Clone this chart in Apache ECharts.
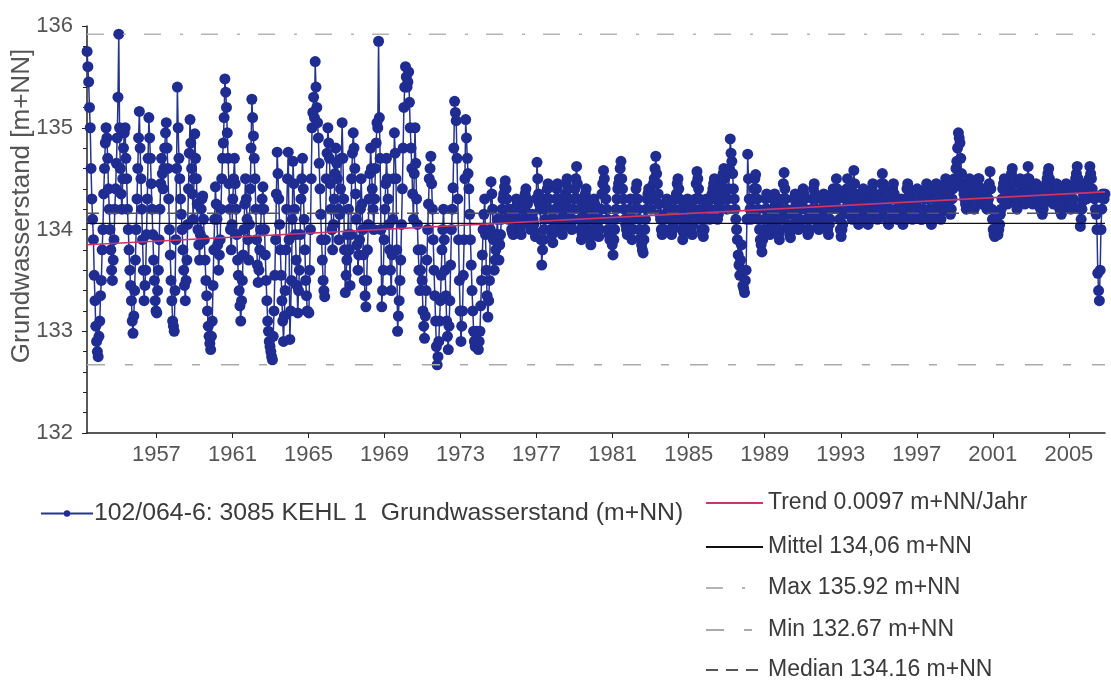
<!DOCTYPE html>
<html>
<head>
<meta charset="utf-8">
<script src="https://cdn.jsdelivr.net/npm/echarts@6/dist/echarts.min.js"></script>
<style>
html,body{margin:0;padding:0;background:#fff;}
#chart{width:1111px;height:682px;}
</style>
</head>
<body>
<div id="chart"></div>
<script>
// Semi-monthly groundwater levels (m+NN)
const start1950s = [1953, 9]; // first value: 1st half of May 1953 (half-month index 9, 1-based)
const gw1950s = [
  135.75,135.6,135.45,135.2,135.0,134.6,134.3,134.1,133.9,133.55,133.3,133.05,132.9,132.8,132.75,132.95,
  133.1,133.35,133.5,133.8,134.0,134.35,134.6,134.85,135.0,134.9,134.7,134.4,134.2,134.0,133.8,133.6,133.5,133.7,133.9,134.2,134.4,134.65,134.9,135.3,
  135.92,135.0,134.6,134.35,134.2,134.5,134.8,134.95,135.0,134.7,134.5,134.2,134.0,133.8,133.6,133.45,133.3,133.1,132.98,133.15,133.4,133.7,134.0,134.3,
  134.6,134.9,135.16,134.8,134.5,134.2,133.9,133.6,133.3,133.45,133.6,133.95,134.3,134.7,135.1,134.9,134.7,134.45,134.2,133.95,133.7,133.5,133.3,133.2,
  133.18,133.4,133.6,133.9,134.2,134.45,134.7,134.55,134.4,134.6,134.8,134.95,135.05,134.8,134.6,134.3,134.0,133.75,133.5,133.3,133.1,133.05,133.0,133.4,
  133.9,134.6,135.4,135.0,134.7,134.5,134.3,134.15,134.0,133.8,133.6,133.45,133.3,133.5,133.7,134.05,134.4,134.75,135.08,134.85,134.6,134.35,134.1,134.5,
  134.94,134.7,134.5,134.25,134.0,133.85,133.7,133.95,134.2,134.3,134.33,134.1,133.9,133.7,133.5,133.35,133.2,133.05,132.95,132.88,132.82,132.95,133.1,133.45
];
const gw1960s = [
  133.8,134.1,134.42,134.25,134.1,133.85,133.6,133.75,133.9,134.2,134.5,134.7,134.85,135.1,135.48,135.35,135.2,134.95,134.7,134.45,134.2,134.0,133.8,134.05,
  134.3,134.5,134.7,134.45,134.2,133.95,133.7,133.55,133.4,133.25,133.1,133.3,133.5,133.75,134.0,134.25,134.5,134.3,134.1,133.9,133.7,134.05,134.4,134.8,
  135.28,135.1,134.92,134.7,134.5,134.2,133.9,133.65,133.48,133.6,133.8,134.0,134.2,134.3,134.42,134.2,134.0,133.75,133.5,133.3,133.1,133.0,132.9,132.85,
  132.8,132.75,132.72,132.95,133.2,133.55,133.9,134.35,134.76,134.55,134.3,134.05,133.8,133.55,133.3,133.1,132.9,133.15,133.4,133.8,134.2,134.5,134.76,133.9,
  132.92,133.2,133.5,134.1,134.67,134.45,134.2,133.95,133.7,133.45,133.18,133.4,133.6,133.95,134.3,134.5,134.7,134.4,134.1,133.8,133.5,133.35,133.2,133.19,
  133.18,133.6,134.0,134.5,135.0,135.15,135.3,135.1,135.65,135.4,135.2,135.05,134.9,134.65,134.4,134.15,133.9,133.7,133.5,133.4,133.34,133.9,134.5,134.75,
  135.0,134.85,134.7,134.45,134.2,134.0,133.8,134.05,134.3,134.55,134.8,134.65,134.5,134.2,133.9,134.15,134.4,134.7,135.05,134.7,134.3,133.8,133.38,133.55,
  133.7,133.95,134.2,133.8,133.45,133.95,134.5,134.75,134.95,134.8,134.6,134.35,134.1,133.85,133.6,133.75,133.9,134.2,134.5,134.25,134.0,133.75,133.5,133.35,
  133.24,133.5,133.8,134.05,134.3,134.55,134.8,134.6,134.4,134.2,134.0,134.3,134.6,134.85,135.05,135.0,135.85,135.1,134.7,134.0,133.24,133.4,133.6,133.9,
  134.2,134.45,134.7,134.5,134.3,134.05,133.8,133.6,133.4,133.75,134.1,134.5,134.95,134.75,134.5,133.8,133.0,133.15,133.3,133.5,133.7,134.05,134.4,134.8
];
const gw1970s = [
  135.2,135.4,135.6,135.5,135.4,135.45,135.55,135.25,135.0,134.8,134.6,134.35,134.1,134.55,135.0,134.65,134.3,134.05,133.8,133.6,133.4,133.6,133.8,133.5,
  133.2,133.05,132.93,133.15,133.4,133.7,134.0,134.25,134.5,134.6,134.72,134.45,134.2,133.9,133.6,133.35,133.1,132.85,132.67,132.75,132.9,133.1,133.3,133.55,
  133.8,134.0,134.2,133.9,133.6,133.35,133.1,132.95,132.82,133.05,133.3,133.65,134.0,134.2,134.41,134.8,135.26,135.15,135.07,134.7,134.3,133.9,133.5,133.2,
  132.9,133.05,133.2,133.55,133.9,134.5,135.08,134.9,134.7,134.55,134.4,134.15,133.9,133.65,133.4,133.2,133.0,132.9,132.85,132.92,133.0,132.9,132.82,132.9,
  133.0,133.25,133.5,133.75,134.0,134.15,134.3,133.95,133.6,133.35,133.14,133.3,133.5,134.0,134.47,134.35,134.2,133.9,133.6,133.7,133.8,133.95,134.1,133.9,
  133.7,133.85,133.95,134.1,134.2,134.3,134.35,134.42,134.48,134.4,134.3,134.2,134.1,134.15,134.2,134.1,134.0,133.97,133.95,134.05,134.1,134.2,134.3,134.25,
  134.2,134.1,134.0,133.97,133.95,134.05,134.1,134.2,134.3,134.35,134.4,134.3,134.25,134.15,134.1,134.05,134.0,134.1,134.15,134.1,134.05,133.98,133.93,134.3,
  134.66,134.5,134.35,134.25,134.2,133.9,133.65,133.8,133.9,134.0,134.1,134.2,134.3,134.4,134.45,134.3,134.2,134.1,134.0,133.95,133.87,134.0,134.1,134.2,
  134.3,134.4,134.45,134.3,134.2,134.1,134.05,134.0,133.95,134.05,134.15,134.25,134.35,134.45,134.5,134.4,134.3,134.2,134.1,134.05,134.0,134.1,134.2,134.3,
  134.4,134.5,134.62,134.45,134.3,134.2,134.1,134.0,133.9,133.95,134.05,134.15,134.25,134.35,134.4,134.3,134.2,134.1,134.0,133.92,133.85,133.97,134.1,134.2
];
const gw1980s = [
  134.3,134.25,134.2,134.1,134.05,134.0,133.93,134.0,134.1,134.2,134.35,134.45,134.58,134.5,134.4,134.3,134.2,134.1,134.0,133.95,133.9,133.95,134.0,133.85,
  133.75,133.9,134.0,134.1,134.2,134.3,134.4,134.45,134.5,134.6,134.67,134.5,134.4,134.3,134.2,134.1,134.05,134.0,133.95,134.0,134.1,134.2,134.3,134.1,
  133.9,134.0,134.1,134.2,134.3,134.4,134.45,134.3,134.2,134.1,134.0,133.92,133.85,133.8,133.77,133.9,134.0,134.1,134.2,134.3,134.35,134.4,134.4,134.3,
  134.2,134.3,134.35,134.45,134.5,134.6,134.72,134.55,134.45,134.35,134.25,134.15,134.1,134.0,133.95,133.97,134.0,134.1,134.15,134.25,134.3,134.25,134.2,134.15,
  134.1,134.0,133.95,134.0,134.05,134.15,134.2,134.3,134.35,134.45,134.5,134.4,134.3,134.2,134.1,134.0,133.9,133.97,134.05,134.1,134.2,134.25,134.3,134.25,
  134.2,134.1,134.0,133.97,133.95,134.05,134.15,134.2,134.3,134.45,134.57,134.5,134.4,134.3,134.2,134.1,134.0,133.95,133.93,134.0,134.1,134.2,134.3,134.25,
  134.2,134.15,134.1,134.2,134.3,134.35,134.4,134.45,134.5,134.4,134.3,134.2,134.1,134.15,134.25,134.35,134.45,134.5,134.5,134.55,134.6,134.5,134.4,134.3,
  134.2,134.3,134.4,134.6,134.89,134.75,134.67,134.55,134.4,134.3,134.2,134.1,134.0,133.9,133.75,133.65,133.55,133.7,133.85,133.6,133.45,133.42,133.38,133.5,
  133.6,134.1,134.74,134.5,134.3,134.2,134.1,134.15,134.2,134.3,134.4,134.5,134.54,134.4,134.3,134.2,134.1,134.0,133.9,133.85,133.78,133.9,134.0,134.1,
  134.2,134.3,134.35,134.2,134.1,134.0,133.95,134.0,134.05,134.15,134.2,134.3,134.35,134.25,134.2,134.1,134.0,133.95,133.9,134.0,134.1,134.2,134.3,134.45
];
const gw1990s = [
  134.56,134.4,134.3,134.2,134.15,134.05,134.0,133.95,133.92,134.0,134.05,134.15,134.2,134.3,134.35,134.25,134.2,134.1,134.0,134.05,134.1,134.2,134.25,134.35,
  134.4,134.35,134.3,134.2,134.1,134.0,133.95,133.97,134.0,134.1,134.15,134.2,134.3,134.4,134.45,134.35,134.3,134.2,134.1,134.05,134.0,134.05,134.1,134.15,
  134.2,134.3,134.35,134.25,134.2,134.1,134.05,134.0,133.95,134.05,134.1,134.2,134.3,134.35,134.4,134.3,134.25,134.35,134.5,134.4,134.3,134.2,134.1,134.0,
  133.93,134.0,134.05,134.15,134.2,134.3,134.35,134.4,134.5,134.4,134.3,134.25,134.2,134.15,134.1,134.3,134.58,134.45,134.35,134.25,134.15,134.1,134.05,134.08,
  134.1,134.2,134.25,134.3,134.4,134.35,134.3,134.2,134.15,134.1,134.05,134.1,134.2,134.3,134.35,134.4,134.45,134.35,134.3,134.25,134.2,134.15,134.1,134.15,
  134.2,134.3,134.35,134.45,134.55,134.45,134.4,134.3,134.25,134.15,134.1,134.07,134.05,134.1,134.2,134.3,134.35,134.4,134.45,134.35,134.3,134.2,134.15,134.1,
  134.1,134.15,134.2,134.25,134.3,134.15,134.05,134.1,134.15,134.2,134.3,134.4,134.45,134.4,134.35,134.25,134.2,134.15,134.1,134.15,134.2,134.25,134.3,134.35,
  134.4,134.35,134.3,134.2,134.15,134.1,134.1,134.15,134.2,134.3,134.35,134.4,134.45,134.35,134.3,134.2,134.15,134.1,134.05,134.1,134.2,134.3,134.35,134.4,
  134.45,134.35,134.3,134.25,134.2,134.15,134.1,134.2,134.25,134.35,134.4,134.45,134.5,134.4,134.35,134.25,134.2,134.18,134.15,134.2,134.3,134.4,134.45,134.5,
  134.5,134.6,134.67,134.8,134.95,134.9,134.85,134.7,134.55,134.45,134.4,134.35,134.3,134.25,134.2,134.3,134.35,134.45,134.5,134.45,134.4,134.35,134.3,134.25
];
const gw2000s = [
  134.2,134.25,134.3,134.4,134.45,134.5,134.5,134.4,134.35,134.3,134.25,134.35,134.4,134.35,134.3,134.25,134.2,134.25,134.3,134.45,134.57,134.4,134.2,134.1,
  134.0,133.95,133.93,134.0,134.1,134.0,133.95,134.0,134.05,134.15,134.2,134.3,134.4,134.45,134.5,134.4,134.35,134.3,134.25,134.3,134.4,134.45,134.5,134.55,
  134.6,134.5,134.45,134.35,134.3,134.25,134.2,134.3,134.35,134.45,134.5,134.45,134.4,134.35,134.3,134.28,134.25,134.3,134.4,134.5,134.62,134.5,134.45,134.4,
  134.35,134.3,134.25,134.28,134.3,134.4,134.45,134.4,134.35,134.3,134.25,134.22,134.2,134.18,134.15,134.2,134.25,134.3,134.4,134.45,134.5,134.55,134.6,134.5,
  134.4,134.35,134.3,134.28,134.25,134.3,134.35,134.4,134.45,134.4,134.3,134.25,134.2,134.18,134.15,134.2,134.25,134.3,134.35,134.4,134.45,134.4,134.35,134.32,
  134.3,134.25,134.2,134.22,134.25,134.3,134.4,134.45,134.5,134.55,134.62,134.5,134.4,134.2,134.03,134.1,134.2,134.28,134.35,134.4,134.45,134.38,134.3,134.35,
  134.4,134.5,134.62,134.55,134.5,134.4,134.35,134.32,134.3,134.2,134.15,134.0,133.57,133.4,133.3,133.6,134.0,134.2,134.35,134.3,134.3,134.35
];

// Statistics / reference lines
const xRange = [1953.35, 2006.9];
const trendValues = [133.85, 134.37];
const meanValue = 134.06;
const maxValue = 135.92;
const minValue = 132.67;
const medianValue = 134.16;
const yearTicks = [1957,1961,1965,1969,1973,1977,1981,1985,1989,1993,1997,2001,2005];

const seriesNames = {
  gw: '102/064-6: 3085 KEHL 1  Grundwasserstand (m+NN)',
  trend: 'Trend 0.0097 m+NN/Jahr',
  mean: 'Mittel 134,06 m+NN',
  max: 'Max 135.92 m+NN',
  min: 'Min 132.67 m+NN',
  median: 'Median 134.16 m+NN'
};

// build [date, value] pairs at half-month midpoints
function halfMonthly(startYear, startHalf, values) {
  return values.map((v, i) => {
    const h = startHalf - 1 + i;
    return [startYear + (h + 0.5) / 24, v];
  });
}
const gwData = [].concat(
  halfMonthly(start1950s[0], start1950s[1], gw1950s),
  halfMonthly(1960, 1, gw1960s),
  halfMonthly(1970, 1, gw1970s),
  halfMonthly(1980, 1, gw1980s),
  halfMonthly(1990, 1, gw1990s),
  halfMonthly(2000, 1, gw2000s)
);
const flat = v => [[xRange[0], v], [xRange[1], v]];

const FONT = 'Liberation Sans, Arial, sans-serif';
const TXT = '#3a3a3a';
const refLegendNames = [seriesNames.trend, seriesNames.mean, seriesNames.max, seriesNames.min, seriesNames.median];
const refLegendTops = [491.5, 535.5, 576.5, 618.5, 658.5];
const refLegends = refLegendNames.map((n, i) => ({
  left: 705, top: refLegendTops[i], padding: 0, itemWidth: 57, itemHeight: 14,
  itemStyle: {opacity: 0},
  data: [n],
  textStyle: {fontSize: 23, color: TXT, fontFamily: FONT, padding: [0, 0, 0, 0]}
}));

const chart = echarts.init(document.getElementById('chart'), null, {renderer: 'canvas'});
chart.setOption({
  animation: false,
  backgroundColor: '#fff',
  grid: {left: 87, right: 6, top: 26, bottom: 249},
  xAxis: {
    type: 'value', min: xRange[0], max: xRange[1],
    splitLine: {show: false},
    axisLine: {lineStyle: {color: '#222', width: 1.5}},
    axisTick: {show: true, customValues: yearTicks, length: 5, lineStyle: {color: '#222'}},
    axisLabel: {customValues: yearTicks, formatter: v => String(v), fontSize: 22, color: '#555', fontFamily: FONT, margin: 11}
  },
  yAxis: {
    type: 'value', min: 132, max: 136, interval: 1,
    splitLine: {show: false},
    axisLine: {show: true, lineStyle: {color: '#222', width: 1.5}},
    axisTick: {show: true, length: 5, lineStyle: {color: '#222'}},
    minorTick: {show: true, splitNumber: 5, length: 4, lineStyle: {color: '#222'}},
    axisLabel: {fontSize: 22, color: '#555', fontFamily: FONT, margin: 14}
  },
  graphic: [{
    type: 'text', x: 22, y: 206, rotation: Math.PI / 2,
    style: {text: 'Grundwasserstand [m+NN]', font: '26px ' + FONT, fill: '#555', textAlign: 'center', textVerticalAlign: 'middle'}
  }],
  legend: [{
    left: 40, top: 501, padding: 0, itemWidth: 52, itemHeight: 8, itemGap: 10,
    data: [seriesNames.gw],
    textStyle: {fontSize: 24.8, color: TXT, fontFamily: FONT, lineHeight: 24, padding: [0, 0, 0, -4]}
  }].concat(refLegends),
  series: [{
    name: seriesNames.gw, type: 'line', data: gwData,
    symbol: 'circle', symbolSize: 11, showAllSymbol: true,
    itemStyle: {color: '#1f2c92'},
    lineStyle: {color: '#27348c', width: 1.5},
    z: 2
  }, {
    name: seriesNames.trend, type: 'line', symbol: 'none', z: 5,
    data: [[xRange[0], trendValues[0]], [xRange[1], trendValues[1]]],
    lineStyle: {color: '#cf3467', width: 1.6}, itemStyle: {color: '#cf3467'}
  }, {
    name: seriesNames.mean, type: 'line', symbol: 'none', z: 4,
    data: flat(meanValue),
    lineStyle: {color: '#111', width: 1.2}, itemStyle: {color: '#111'}
  }, {
    name: seriesNames.max, type: 'line', symbol: 'none', z: 4,
    data: flat(maxValue),
    lineStyle: {color: '#b5b5b5', width: 1.5, type: [17, 19, 3, 18]}, itemStyle: {color: '#b5b5b5'}
  }, {
    name: seriesNames.min, type: 'line', symbol: 'none', z: 4,
    data: flat(minValue),
    lineStyle: {color: '#aaaaaa', width: 1.5, type: [18, 20, 8, 21]}, itemStyle: {color: '#aaaaaa'}
  }, {
    name: seriesNames.median, type: 'line', symbol: 'none', z: 4,
    data: flat(medianValue),
    lineStyle: {color: '#555', width: 1.5, type: [12, 8]}, itemStyle: {color: '#555'}
  }]
});
</script>
</body>
</html>
